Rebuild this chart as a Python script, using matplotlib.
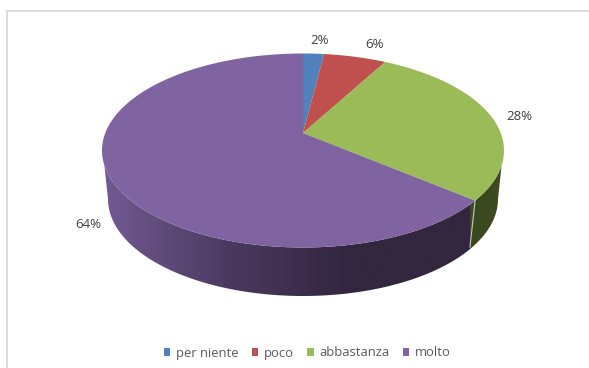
import numpy as np
import matplotlib.pyplot as plt
from matplotlib.colors import LinearSegmentedColormap
from matplotlib.patches import Polygon

categories = ['per niente', 'poco', 'abbastanza', 'molto']
values = [2, 6, 28, 64]
pct_labels = ['2%', '6%', '28%', '64%']
colors = ['#4f81bd', '#c0504d', '#9bbb59', '#8064a2']

plt.rcParams['font.family'] = 'Open Sans'

# pixel layout of the tilted pie
cx, cy, rx, ry = 303, 150.5, 201, 97
cy2, rx2, ry2 = 199, 195, 97
k = 0.18  # perspective, moves the pie centre towards the back

fig = plt.figure(figsize=(5.89, 3.68), dpi=100)
ax = fig.add_axes([0, 0, 1, 1])
ax.axis('off')


def project(theta, cy_=cy, rx_=rx, ry_=ry):
    # theta clockwise from 12 o'clock, circle stays an ellipse in perspective
    X, Y = np.sin(theta), np.cos(theta)
    d = 1 + k * Y
    return cx + rx_ * X * np.sqrt(1 - k**2) / d, cy_ - ry_ * (Y + k) / d


def wedge(a, b):
    t = np.linspace(a, b, 200)
    x, y = project(t)
    return np.r_[cx, x], np.r_[cy - ry * k, y]


# chart frame
ax.plot([7, 7], [368, 11], color='#dcdcdc', lw=1.4)
ax.plot([7, 589], [11, 11], color='#dcdcdc', lw=1.4)

edges = np.r_[0, np.cumsum(values)] / sum(values) * 2 * np.pi

# side wall
phi = np.linspace(np.arcsin(15 / ry), np.pi - np.arcsin(15 / ry), 200)
top_x, top_y = cx - rx * np.cos(phi), cy + ry * np.sin(phi)
phi2 = np.linspace(np.pi, 0, 200)
bot_x, bot_y = cx - rx2 * np.cos(phi2), cy2 + ry2 * np.sin(phi2)
side = np.c_[np.r_[top_x, bot_x], np.r_[top_y, bot_y]]

split_top = project(edges[3])
split_bot = project(edges[3], cy2 - 2, rx2, ry2)

purple = LinearSegmentedColormap.from_list('p', ['#725a92', '#4b3a60', '#33263f', '#33263f'])
green = LinearSegmentedColormap.from_list('g', ['#3a481f', '#3e4c20'])
grad = np.linspace(0, 1, 256).reshape(1, -1)
im = ax.imshow(grad, cmap=purple, extent=[104, split_bot[0], 368, 0], aspect='auto')
im2 = ax.imshow(grad, cmap=green, extent=[split_bot[0], 505, 368, 0], aspect='auto')
ax.set_xlim(0, 589)
ax.set_ylim(368, 0)
im.set_clip_path(Polygon(side, transform=ax.transData))
im2.set_clip_path(Polygon(side, transform=ax.transData))
ax.plot([split_top[0], split_bot[0]], [split_top[1], split_bot[1]], color='#c8c8c8', lw=0.8)

# top face
for i, name in enumerate(categories):
    x, y = wedge(edges[i], edges[i + 1])
    ax.fill(x, y, facecolor=colors[i], edgecolor='white', lw=1, label=name, joinstyle='round')

# value labels
label_pos = [(320, 40), (375, 44), (519, 117), (88, 225)]
for txt, (lx, ly) in zip(pct_labels, label_pos):
    ax.text(lx, ly, txt, ha='center', va='center', fontsize=9.5, color='#404040')

handles, labels = ax.get_legend_handles_labels()
for h in handles:
    h.set_edgecolor('none')
ax.legend(handles, labels, ncol=4, frameon=False, loc='center', bbox_to_anchor=(307.5 / 589, 1 - 353 / 368),
          fontsize=9.4, labelcolor='#595959', handlelength=0.5, handleheight=0.5,
          handletextpad=0.45, columnspacing=1.0, borderpad=0)

fig.savefig('out.png', dpi=100)
